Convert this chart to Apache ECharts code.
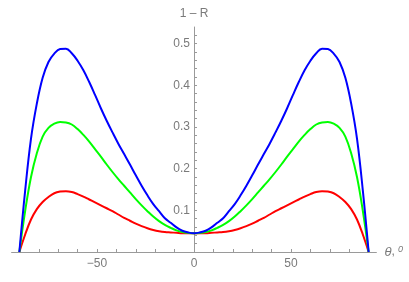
<!DOCTYPE html>
<html>
<head>
<meta charset="utf-8">
<script src="https://cdn.jsdelivr.net/npm/echarts@6/dist/echarts.min.js"></script>
<style>html,body{margin:0;padding:0;background:#fff}#c{width:409px;height:282px}</style>
</head>
<body>
<div id="c"></div>
<script>
var thetas = [-90,-87,-84,-81,-78,-75,-72,-69,-66,-63,-60,-57,-54,-51,-48,-45,-42,-39,-36,-33,-30,-27,-24,-21,-18,-15,-12,-9,-6,-3,0,
  3,6,9,12,15,18,21,24,27,30,33,36,39,42,45,48,51,54,57,60,63,66,69,72,75,78,81,84,87,90];
var blueVals = [0,0.148,0.272,0.356,0.418,0.456,0.476,0.487,0.488,0.477,0.459,0.436,0.408,0.377,0.345,0.315,0.287,0.26,0.235,0.21,0.184,0.159,0.136,0.115,0.098,0.081,0.07,0.059,0.051,0.047,0.045,
  0.047,0.051,0.059,0.07,0.081,0.098,0.115,0.136,0.159,0.184,0.21,0.235,0.26,0.287,0.315,0.345,0.377,0.408,0.436,0.459,0.477,0.488,0.487,0.476,0.456,0.418,0.356,0.272,0.148,0];
var greenVals = [0,0.099,0.18,0.237,0.277,0.298,0.308,0.312,0.311,0.306,0.295,0.281,0.265,0.247,0.229,0.21,0.192,0.175,0.159,0.143,0.127,0.112,0.098,0.085,0.074,0.065,0.058,0.052,0.048,0.046,0.045,
  0.046,0.048,0.052,0.058,0.065,0.074,0.085,0.098,0.112,0.127,0.143,0.159,0.175,0.192,0.21,0.229,0.247,0.265,0.281,0.295,0.306,0.311,0.312,0.308,0.298,0.277,0.237,0.18,0.099,0];
var redVals = [0,0.042,0.078,0.103,0.12,0.132,0.141,0.145,0.146,0.144,0.139,0.133,0.126,0.119,0.112,0.105,0.098,0.09,0.082,0.075,0.068,0.062,0.057,0.053,0.05,0.048,0.047,0.046,0.045,0.045,0.045,
  0.045,0.045,0.046,0.047,0.048,0.05,0.053,0.057,0.062,0.068,0.075,0.082,0.09,0.098,0.105,0.112,0.119,0.126,0.133,0.139,0.144,0.146,0.145,0.141,0.132,0.12,0.103,0.078,0.042,0];
var xLabels = [-50, 0, 50];
var xTicks = [-90,-80,-70,-60,-50,-40,-30,-20,-10,10,20,30,40,50,60,70,80,90];
var yLabels = [0.1, 0.2, 0.3, 0.4, 0.5];
var yTicks = [0.02,0.04,0.06,0.08,0.1,0.12,0.14,0.16,0.18,0.2,0.22,0.24,0.26,0.28,0.3,0.32,0.34,0.36,0.38,0.4,0.42,0.44,0.46,0.48,0.5,0.52];

function pairs(v){ return thetas.map(function(t,i){ return [t, v[i]]; }); }

var axisGray = '#9a9a9a';
var textGray = '#7a7a7a';
var font = 'Liberation Sans, Arial, sans-serif';
var gridLeft = 11.6, gridRight = 32.6, xMin = -94, xMax = 94;
var plotW = 409 - gridLeft - gridRight;
var zeroOffset = (0 - xMin) / (xMax - xMin) * plotW;

var chart = echarts.init(document.getElementById('c'), null, {renderer:'canvas'});
chart.setOption({
  animation: false,
  backgroundColor: '#fff',
  grid: {left: gridLeft, right: gridRight, top: 27, bottom: 30, containLabel: false, outerBoundsMode: 'none'},
  xAxis: {
    type: 'value', min: xMin, max: xMax,
    name: '{t|θ}{c|, }{s|0}',
    nameLocation: 'end', nameGap: 8,
    nameTextStyle: {
      color: textGray, fontFamily: font, fontSize: 12,
      rich: {
        t: {fontStyle: 'italic', fontSize: 13, color: textGray, fontFamily: font},
        c: {fontSize: 12, color: textGray, fontFamily: font},
        s: {fontStyle: 'italic', fontSize: 9, color: textGray, fontFamily: font, verticalAlign: 'top', padding: [0,0,6,0]}
      }
    },
    axisLine: {onZero: true, lineStyle: {color: axisGray, width: 1}},
    axisTick: {show: true, inside: true, length: 3, customValues: xTicks, lineStyle: {color: axisGray}},
    axisLabel: {customValues: xLabels, color: textGray, fontFamily: font, fontSize: 12, margin: 6,
      formatter: function(v){ return v < 0 ? '\u2212' + Math.abs(v) : String(v); }},
    splitLine: {show: false}
  },
  yAxis: {
    type: 'value', min: 0, max: 0.54, position: 'left', offset: -zeroOffset,
    name: '1 \u2013 R', nameLocation: 'end', nameGap: 7,
    nameTextStyle: {color: textGray, fontFamily: font, fontSize: 12, align: 'center'},
    axisLine: {onZero: false, lineStyle: {color: axisGray, width: 1}},
    axisTick: {show: true, inside: true, length: 3, customValues: yTicks, lineStyle: {color: axisGray}},
    axisLabel: {customValues: yLabels, color: textGray, fontFamily: font, fontSize: 12, margin: 4,
      formatter: function(v){ return v.toFixed(1); }},
    splitLine: {show: false}
  },
  series: [
    {type: 'line', data: pairs(redVals), showSymbol: false, smooth: 0.4, lineStyle: {color: '#ff0000', width: 2}, itemStyle:{color:'#ff0000'}, z: 2},
    {type: 'line', data: pairs(greenVals), showSymbol: false, smooth: 0.4, lineStyle: {color: '#00ff00', width: 2}, itemStyle:{color:'#00ff00'}, z: 3},
    {type: 'line', data: pairs(blueVals), showSymbol: false, smooth: 0.4, lineStyle: {color: '#0000ff', width: 2}, itemStyle:{color:'#0000ff'}, z: 4}
  ]
});
</script>
</body>
</html>
